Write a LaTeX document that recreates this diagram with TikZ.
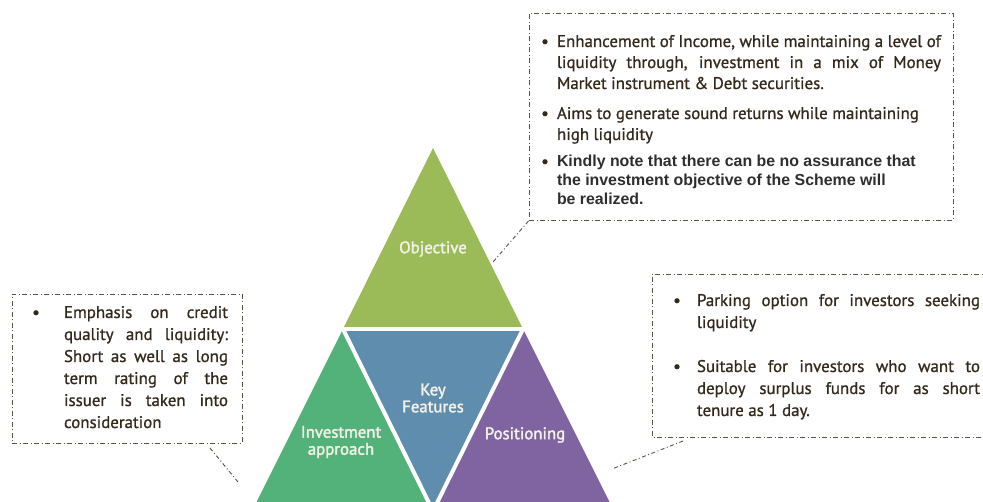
\documentclass[tikz,border=0pt]{standalone}
\usepackage{fontspec}
\setmainfont{PT Sans}[FakeBold=0.9]
\newfontfamily\lblfont{PT Sans}[FakeBold=2]
\newfontfamily\arialfont{Liberation Sans}
\definecolor{objgreen}{HTML}{9BBB59}
\definecolor{keyblue}{HTML}{5F8DAE}
\definecolor{invgreen}{HTML}{52B27A}
\definecolor{pospurple}{HTML}{8064A2}
\definecolor{txtbrown}{HTML}{33281A}
\definecolor{boxline}{HTML}{5A5244}
\definecolor{lblcream}{HTML}{F3F1E6}
\tikzset{
  txt/.style={inner sep=0pt, outer sep=0pt, text=txtbrown, font=\fontsize{16.9}{19}\selectfont, anchor=base west},
  bul/.style={inner sep=0pt, outer sep=0pt, text=txtbrown, font=\fontsize{16.9}{19}\selectfont, anchor=base},
  atxt/.style={inner sep=0pt, outer sep=0pt, text=black!82, font=\arialfont\bfseries\fontsize{15.9}{17}\selectfont, anchor=base west},
  dbox/.style={draw=boxline, line width=0.9pt, dash pattern=on 5pt off 2.5pt on 1pt off 2.5pt, fill=none, inner sep=0pt},
  conn/.style={draw=boxline, line width=0.9pt, dash pattern=on 4pt off 2.5pt on 1pt off 2.5pt},
  lbl/.style={text=lblcream, font=\lblfont\fontsize{16.8}{18}\selectfont, align=center, inner sep=0pt},
  sep/.style={draw=white, line width=4pt, line cap=round},
}
\begin{document}
\begin{tikzpicture}[x=1pt,y=-1pt]
\useasboundingbox (0,0) rectangle (983,502);
% triangles
\fill[objgreen] (433,148) -- (343,329) -- (523,329) -- cycle;
\fill[invgreen] (343,329) -- (252,511) -- (433,511) -- cycle;
\fill[keyblue] (343,329) -- (523,329) -- (433,511) -- cycle;
\fill[pospurple] (523,329) -- (433,511) -- (614,511) -- cycle;
\draw[sep] (330,329) -- (536,329);
\draw[sep] (343,329) -- (433,511) -- (523,329);
\node[lbl] (lobj) at (433,249) {Objective};
\node[lbl] (lkey) at (433,398) {Key\\[-1pt]Features};
\node[lbl] (linv) at (341,442) {Investment\\[-1pt]approach};
\node[lbl] (lpos) at (525,435) {Positioning};
% top box
\node[dbox, minimum width=424pt, minimum height=207pt] (topbox) at (741,117) {};
\node[bul] (tb1) at (545,47) {•};
\node[txt] (t1) at (557,47) {\makebox[384pt][s]{Enhancement of Income, while maintaining a level of}};
\node[txt] (t2) at (557,68) {\makebox[384pt][s]{liquidity through, investment in a mix of Money}};
\node[txt] (t3) at (557,89) {Market instrument \& Debt securities.};
\node[bul] (tb2) at (545,119) {•};
\node[txt] (t4) at (557,119) {Aims to generate sound returns while maintaining};
\node[txt] (t5) at (557,140) {high liquidity};
\node[bul] (tb3) at (545,167) {•};
\node[atxt] (t6) at (557,167) {Kindly note that there can be no assurance that};
\node[atxt] (t7) at (557,186) {the investment objective of the Scheme will};
\node[atxt] (t8) at (557,205) {be realized.};
\coordinate (objend) at (493,262);
\draw[conn] (topbox.south west) -- (objend);
% left box
\node[dbox, minimum width=230pt, minimum height=149pt] (leftbox) at (127,368.5) {};
\node[bul] (lb1) at (36,318) {•};
\node[txt] (l1) at (64,318) {\makebox[164pt][s]{Emphasis on credit}};
\node[txt] (l2) at (64,340) {\makebox[164pt][s]{quality and liquidity:}};
\node[txt] (l3) at (64,362) {\makebox[164pt][s]{Short as well as long}};
\node[txt] (l4) at (64,384) {\makebox[164pt][s]{term rating of the}};
\node[txt] (l5) at (64,406) {\makebox[164pt][s]{issuer is taken into}};
\node[txt] (l6) at (64,428) {consideration};
\coordinate (lcs) at (210,448);
\coordinate (lce) at (238,482);
\draw[conn] (lcs) -- (lce);
% right box
\coordinate (rtr) at (990,274);
\coordinate (rtl) at (652,274);
\coordinate (rbl) at (652,437);
\coordinate (rbr) at (990,437);
\draw[dbox] (rtr) -- (rtl) -- (rbl) -- (rbr);
\node[bul] (rb1) at (677,306) {•};
\node[txt] (r1) at (697,306) {\makebox[283pt][s]{Parking option for investors seeking}};
\node[txt] (r2) at (697,328) {liquidity};
\node[bul] (rb2) at (677,372) {•};
\node[txt] (r3) at (697,372) {\makebox[283pt][s]{Suitable for investors who want to}};
\node[txt] (r4) at (697,394) {\makebox[283pt][s]{deploy surplus funds for as short}};
\node[txt] (r5) at (697,416) {tenure as 1 day.};
\coordinate (rcs) at (683,441);
\coordinate (rce) at (612,469);
\draw[conn] (rcs) -- (rce);
\end{tikzpicture}
\end{document}
